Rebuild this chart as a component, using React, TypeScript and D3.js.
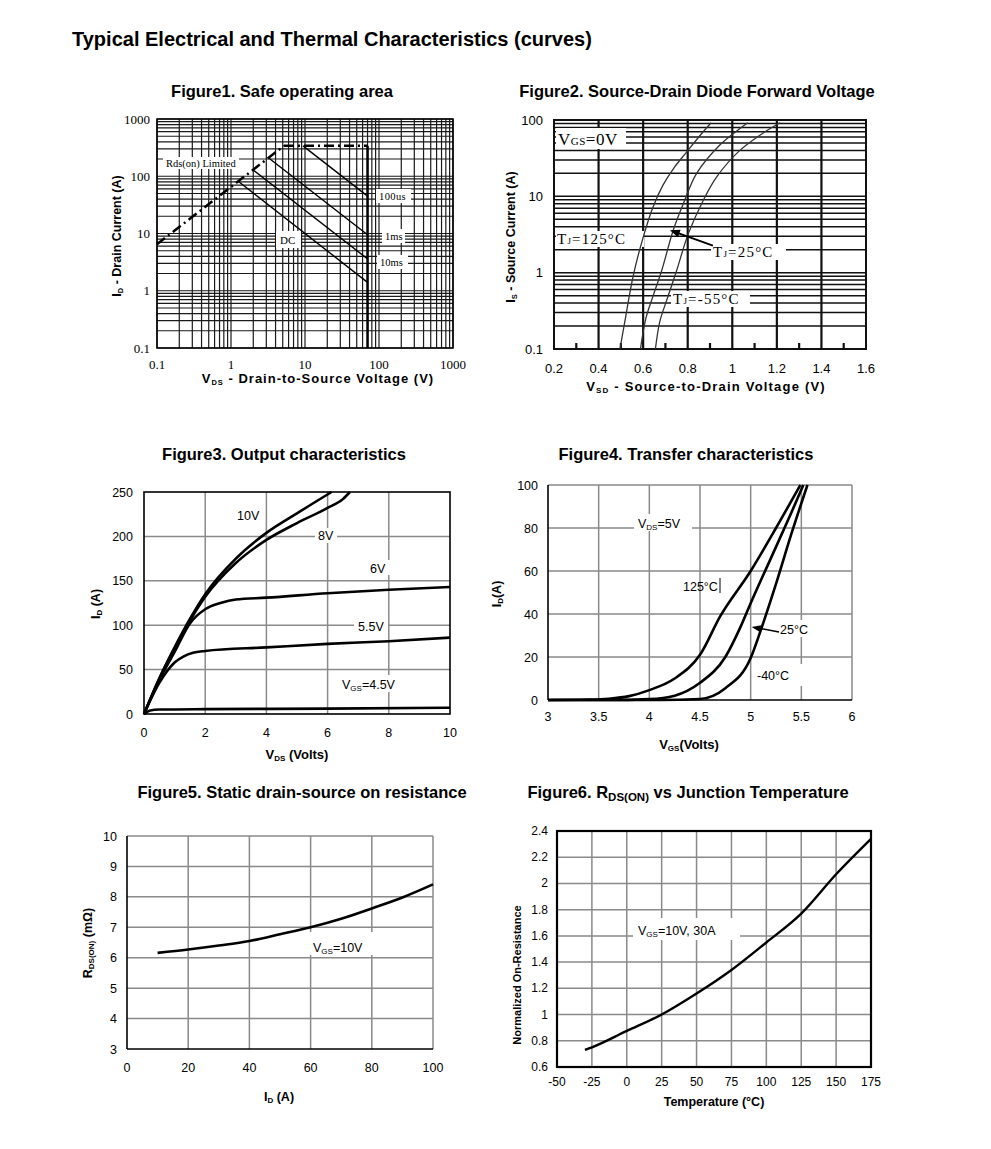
import * as d3 from "d3"

type P = [number, number]

const SANS = "'Liberation Sans', Arial, sans-serif"
const SERIF = "'Liberation Serif', 'Times New Roman', serif"

// ---- Figure 1: safe operating area (Vds V, Id A)
const soaTicks = [0.1, 1, 10, 100, 1000]
const soaRdsLimit: P[] = [[0.1, 6.5], [5.2, 340]]
const soaTop: P[] = [[5.2, 340], [70, 340]]
const soaVmax: P[] = [[70, 340], [70, 0.1]]
const soa100us: P[] = [[9.4, 340], [70, 45]]
const soa1ms: P[] = [[3.2, 210], [70, 9.5]]
const soa10ms: P[] = [[2.0, 128], [70, 3.6]]
const soaDC: P[] = [[1.25, 82], [70, 1.4]]

// ---- Figure 2: diode forward voltage (Vsd V, Is A)
const vsdTicks = [0.2, 0.4, 0.6, 0.8, 1.0, 1.2, 1.4, 1.6]
const vsdGrid = [0.4, 0.6, 0.8, 1.0, 1.2, 1.4]
const vsdMinor = [0.3, 0.5, 0.7, 0.9, 1.1, 1.3, 1.5]
const isTicks = [0.1, 1, 10, 100]
const diode125: P[] = [[0.496, 0.1], [0.518, 0.23], [0.554, 0.87], [0.6, 2.9], [0.644, 7.2], [0.689, 14], [0.74, 24], [0.795, 38], [0.86, 65], [0.905, 92]]
const diode25: P[] = [[0.588, 0.1], [0.612, 0.25], [0.645, 0.5], [0.683, 1.06], [0.735, 3.6], [0.78, 8], [0.84, 20], [0.944, 47], [1.02, 72], [1.07, 92]]
const diodeM55: P[] = [[0.655, 0.1], [0.675, 0.23], [0.705, 0.43], [0.75, 1.06], [0.802, 3.2], [0.87, 8.9], [0.93, 18], [1.034, 40], [1.14, 68], [1.215, 92]]

// ---- Figure 3: output characteristics (Vds V, Id A)
const vdsTicks = [0, 2, 4, 6, 8, 10]
const idTicks3 = [0, 50, 100, 150, 200, 250]
const out10V: P[] = [[0, 0], [0.5, 40], [1, 75], [1.5, 107], [2, 135], [3, 175], [4, 204], [5, 226], [6.13, 250]]
const out8V: P[] = [[0, 0], [0.5, 40], [1, 74], [1.5, 105], [2, 132], [3, 170], [4, 196], [5, 215], [6, 232], [6.5, 242], [6.73, 250]]
const out6V: P[] = [[0, 0], [0.5, 38], [1, 70], [1.5, 102], [2, 118], [2.5, 125], [3, 129], [4, 131], [6, 136], [8, 140], [10, 143]]
const out55V: P[] = [[0, 0], [0.5, 35], [1, 58], [1.3, 65], [1.6, 69], [2, 71], [4, 75], [6, 79], [8, 82], [10, 86]]
const out45V: P[] = [[0, 0], [0.2, 4], [0.5, 5], [2, 5.5], [6, 6], [10, 7]]

// ---- Figure 4: transfer characteristics (Vgs V, Id A)
const vgsTicks = [3, 3.5, 4, 4.5, 5, 5.5, 6]
const idTicks4 = [0, 20, 40, 60, 80, 100]
const tr125: P[] = [[3, 0], [3.4, 0.2], [3.6, 0.6], [3.8, 1.8], [4, 4.6], [4.25, 10], [4.5, 21], [4.7, 39], [5, 60], [5.25, 80], [5.49, 100]]
const tr25: P[] = [[3, 0], [3.6, 0], [4, 0.4], [4.25, 2], [4.5, 8], [4.75, 20], [4.9, 34], [5, 45], [5.2, 66], [5.4, 87], [5.52, 100]]
const trM40: P[] = [[3, 0], [4.1, 0], [4.5, 0.5], [4.75, 5.5], [5, 19.5], [5.1, 32.5], [5.25, 54], [5.4, 77], [5.56, 100]]

// ---- Figure 5: Rds(on) vs Id
const idTicks5 = [0, 20, 40, 60, 80, 100]
const rTicks5 = [3, 4, 5, 6, 7, 8, 9, 10]
const rdsId = [10, 20, 30, 40, 50, 60, 70, 80, 90, 100]
const rdsVal = [6.16, 6.27, 6.4, 6.55, 6.77, 7.0, 7.28, 7.62, 7.98, 8.41]

// ---- Figure 6: normalized Rds(on) vs Tj
const tempTicks = [-50, -25, 0, 25, 50, 75, 100, 125, 150, 175]
const normTicks = [0.6, 0.8, 1, 1.2, 1.4, 1.6, 1.8, 2, 2.2, 2.4]
const tjVal = [-30, -25, 0, 25, 50, 75, 100, 125, 150, 175]
const normVal = [0.73, 0.75, 0.875, 1.0, 1.16, 1.34, 1.55, 1.77, 2.07, 2.34]

const fmt = (v: number) => String(+v.toFixed(2))

function Box({ x, y, w, h }: { x: number; y: number; w: number; h: number }) {
  return <rect x={x} y={y} width={w} height={h} fill="#fff" />
}

function Arrow({ hx, hy, tx, ty, len, half, sw }: { hx: number; hy: number; tx: number; ty: number; len: number; half: number; sw: number }) {
  const a = Math.atan2(ty - hy, tx - hx)
  const c = Math.cos(a), s = Math.sin(a)
  const p1 = [hx + len * c - half * s, hy + len * s + half * c]
  const p2 = [hx + len * c + half * s, hy + len * s - half * c]
  return (
    <g>
      <line x1={tx} y1={ty} x2={hx + (len - 2) * c} y2={hy + (len - 2) * s} stroke="#000" strokeWidth={sw} />
      <polygon points={`${hx},${hy} ${p1[0]},${p1[1]} ${p2[0]},${p2[1]}`} fill="#000" />
    </g>
  )
}

export default function App() {
  // scales
  const x1 = d3.scaleLog().domain([0.1, 1000]).range([157, 453])
  const y1 = d3.scaleLog().domain([0.1, 1000]).range([348, 119])
  const x2 = d3.scaleLinear().domain([0.2, 1.6]).range([554, 866])
  const y2 = d3.scaleLog().domain([0.1, 100]).range([349, 120])
  const x3 = d3.scaleLinear().domain([0, 10]).range([144, 450])
  const y3 = d3.scaleLinear().domain([0, 250]).range([714, 492])
  const x4 = d3.scaleLinear().domain([3, 6]).range([548, 852])
  const y4 = d3.scaleLinear().domain([0, 100]).range([700, 485])
  const x5 = d3.scaleLinear().domain([0, 100]).range([127, 433])
  const y5 = d3.scaleLinear().domain([3, 10]).range([1049, 836])
  const x6 = d3.scaleLinear().domain([-50, 175]).range([557, 871])
  const y6 = d3.scaleLinear().domain([0.6, 2.4]).range([1067, 831])

  const l1 = d3.line<P>().x(d => x1(d[0])).y(d => y1(d[1]))
  const l2 = d3.line<P>().x(d => x2(d[0])).y(d => y2(d[1])).curve(d3.curveCatmullRom)
  const l3 = d3.line<P>().x(d => x3(d[0])).y(d => y3(d[1])).curve(d3.curveMonotoneX)
  const l4 = d3.line<P>().x(d => x4(d[0])).y(d => y4(d[1])).curve(d3.curveMonotoneX)
  const l5 = d3.line<number>().x(d => x5(d)).y((d, i) => y5(rdsVal[i])).curve(d3.curveMonotoneX)
  const l6 = d3.line<number>().x(d => x6(d)).y((d, i) => y6(normVal[i])).curve(d3.curveMonotoneX)

  const gray = "#8a8a8a"
  const titleStyle = { fontSize: 16.5, fontWeight: 700 as const }

  return (
    <svg width={991} height={1149} style={{ position: "absolute", left: 0, top: 0, background: "#fff" }} fontFamily={SANS}>
      <rect width={991} height={1149} fill="#fff" />
      <text x={72} y={46} fontSize={20} fontWeight={700}>Typical Electrical and Thermal Characteristics (curves)</text>

      {/* ================= Figure 1 ================= */}
      <text x={282} y={97} textAnchor="middle" {...titleStyle}>Figure1. Safe operating area</text>
      <g stroke="#1a1a1a" strokeWidth={1.2}>
        {x1.ticks().map((t, i) => <line key={"a" + i} x1={x1(t)} x2={x1(t)} y1={119} y2={348} />)}
        {y1.ticks().map((t, i) => <line key={"b" + i} x1={157} x2={453} y1={y1(t)} y2={y1(t)} />)}
      </g>
      <rect x={157} y={119} width={296} height={229} fill="none" stroke="#000" strokeWidth={1.5} />
      <g fill="none" stroke="#000">
        <path d={l1(soaRdsLimit)!} strokeWidth={2.5} strokeDasharray="10 4 2 4" />
        <path d={l1(soaTop)!} strokeWidth={2.5} strokeDasharray="10 4 2 4" />
        <path d={l1(soaVmax)!} strokeWidth={2.5} />
        <path d={l1(soa100us)!} strokeWidth={1.4} />
        <path d={l1(soa1ms)!} strokeWidth={1.4} />
        <path d={l1(soa10ms)!} strokeWidth={1.4} />
        <path d={l1(soaDC)!} strokeWidth={1.4} />
      </g>
      <g fontFamily={SERIF} fontSize={10.5}>
        <Box x={163} y={157} w={76} h={12} />
        <text x={166} y={166.5}>Rds(on) Limited</text>
        <Box x={376} y={189} w={35} h={14} />
        <text x={379} y={199.5} letterSpacing={0.4}>100us</text>
        <Box x={382} y={229} w={23} h={14} />
        <text x={385} y={239.5}>1ms</text>
        <Box x={377} y={255} w={31} h={14} />
        <text x={380} y={265.5}>10ms</text>
        <Box x={276} y={231} w={25} h={17} />
        <text x={280} y={244} fontSize={11}>DC</text>
      </g>
      <g fontFamily={SERIF} fontSize={13}>
        {soaTicks.map(t => <text key={"y" + t} x={150} y={y1(t) + 4.5} textAnchor="end">{fmt(t)}</text>)}
        {soaTicks.map(t => <text key={"x" + t} x={x1(t)} y={369} textAnchor="middle">{fmt(t)}</text>)}
      </g>
      <text x={318} y={383} textAnchor="middle" fontSize={13} fontWeight={700} letterSpacing={1}>
        V<tspan fontSize={7.5} dy={2}>DS</tspan><tspan dy={-2}> - Drain-to-Source Voltage (V)</tspan>
      </text>
      <text transform="translate(121,236) rotate(-90)" textAnchor="middle" fontSize={12.5} fontWeight={700}>
        I<tspan fontSize={7.5} dy={2}>D</tspan><tspan dy={-2}> - Drain Current (A)</tspan>
      </text>

      {/* ================= Figure 2 ================= */}
      <text x={697} y={97} textAnchor="middle" {...titleStyle}>Figure2. Source-Drain Diode Forward Voltage</text>
      <g stroke="#111" strokeWidth={1.5}>
        {y2.ticks().map((t, i) => <line key={"h" + i} x1={554} x2={866} y1={y2(t)} y2={y2(t)} />)}
      </g>
      <g stroke="#111" strokeWidth={2.2}>
        {vsdGrid.map(t => <line key={"v" + t} x1={x2(t)} x2={x2(t)} y1={120} y2={349} />)}
        {vsdMinor.map(t => <line key={"m" + t} x1={x2(t)} x2={x2(t)} y1={343} y2={349} />)}
      </g>
      <rect x={554} y={120} width={312} height={229} fill="none" stroke="#111" strokeWidth={2} />
      <g fontFamily={SERIF}>
        <Box x={556} y={128} w={70} h={21} />
        <text x={558} y={145} fontSize={17} letterSpacing={0.5}>V<tspan fontSize={11}>GS</tspan>=0V</text>
        <Box x={556} y={231} w={88} h={16} />
        <text x={557} y={244} fontSize={15} letterSpacing={1.2}>T<tspan fontSize={9}>J</tspan>=125°C</text>
        <Box x={711} y={244} w={75} h={16} />
        <text x={713} y={257} fontSize={15} letterSpacing={1.2}>T<tspan fontSize={9}>J</tspan>=25°C</text>
        <Box x={671} y={291} w={79} h={16} />
        <text x={673} y={304} fontSize={15} letterSpacing={1.2}>T<tspan fontSize={9}>J</tspan>=-55°C</text>
      </g>
      <g fill="none" stroke="#333" strokeWidth={1.3}>
        <path d={l2(diode125)!} />
        <path d={l2(diode25)!} />
        <path d={l2(diodeM55)!} />
      </g>
      <Arrow hx={x2(0.72)} hy={y2(3.6)} tx={x2(0.913)} ty={y2(2.26)} len={10} half={4} sw={2} />
      <g fontSize={13}>
        {isTicks.map(t => <text key={"y" + t} x={543} y={y2(t) + 4.5} textAnchor="end">{fmt(t)}</text>)}
        {vsdTicks.map(t => <text key={"x" + t} x={x2(t)} y={373} textAnchor="middle">{fmt(t)}</text>)}
      </g>
      <text x={706} y={391} textAnchor="middle" fontSize={13} fontWeight={700} letterSpacing={1.2}>
        V<tspan fontSize={8} dy={2}>SD</tspan><tspan dy={-2}> - Source-to-Drain Voltage (V)</tspan>
      </text>
      <text transform="translate(515,237) rotate(-90)" textAnchor="middle" fontSize={12.5} fontWeight={700}>
        I<tspan fontSize={7.5} dy={2}>S</tspan><tspan dy={-2}> - Source Current (A)</tspan>
      </text>

      {/* ================= Figure 3 ================= */}
      <text x={284} y={460} textAnchor="middle" {...titleStyle}>Figure3. Output characteristics</text>
      <g stroke={gray} strokeWidth={1.5}>
        {vdsTicks.slice(1, -1).map(t => <line key={"v" + t} x1={x3(t)} x2={x3(t)} y1={492} y2={714} />)}
        {idTicks3.slice(1, -1).map(t => <line key={"h" + t} x1={144} x2={450} y1={y3(t)} y2={y3(t)} />)}
      </g>
      <rect x={144} y={492} width={306} height={222} fill="none" stroke="#000" strokeWidth={1.6} />
      <g fontSize={12.5}>
        <Box x={315} y={528} w={22} h={15} />
        <text x={318} y={540}>8V</text>
        <Box x={366} y={560} w={27} h={15} />
        <text x={370} y={573}>6V</text>
        <Box x={354} y={618} w={34} h={15} />
        <text x={358} y={631}>5.5V</text>
        <Box x={338} y={675} w={64} h={17} />
        <text x={342} y={689}>V<tspan fontSize={8} dy={2}>GS</tspan><tspan dy={-2}>=4.5V</tspan></text>
        <text x={237} y={520}>10V</text>
      </g>
      <g fill="none" stroke="#000" strokeWidth={2.6} strokeLinejoin="round">
        <path d={l3(out10V)!} />
        <path d={l3(out8V)!} />
        <path d={l3(out6V)!} />
        <path d={l3(out55V)!} />
        <path d={l3(out45V)!} />
      </g>
      <g fontSize={12.5}>
        {idTicks3.map(t => <text key={"y" + t} x={133} y={y3(t) + 4.5} textAnchor="end">{t}</text>)}
        {vdsTicks.map(t => <text key={"x" + t} x={x3(t)} y={737} textAnchor="middle">{t}</text>)}
      </g>
      <text x={297} y={759} textAnchor="middle" fontSize={13} fontWeight={700}>
        V<tspan fontSize={8} dy={2}>DS</tspan><tspan dy={-2}> (Volts)</tspan>
      </text>
      <text transform="translate(100,604) rotate(-90)" textAnchor="middle" fontSize={12.5} fontWeight={700}>
        I<tspan fontSize={8} dy={2}>D</tspan><tspan dy={-2}> (A)</tspan>
      </text>

      {/* ================= Figure 4 ================= */}
      <text x={686} y={460} textAnchor="middle" {...titleStyle}>Figure4. Transfer characteristics</text>
      <g stroke={gray} strokeWidth={1.5}>
        {vgsTicks.slice(1, -1).map(t => <line key={"v" + t} x1={x4(t)} x2={x4(t)} y1={485} y2={700} />)}
        {idTicks4.slice(1, -1).map(t => <line key={"h" + t} x1={548} x2={852} y1={y4(t)} y2={y4(t)} />)}
        <line x1={548} x2={852} y1={485} y2={485} />
        <line x1={852} x2={852} y1={485} y2={700} />
      </g>
      <line x1={548} x2={548} y1={485} y2={700} stroke="#000" strokeWidth={1.6} />
      <line x1={548} x2={852} y1={700} y2={700} stroke="#000" strokeWidth={1.6} />
      <g fontSize={12.5}>
        <Box x={634} y={514} w={58} h={17} />
        <text x={638} y={528}>V<tspan fontSize={8} dy={2}>DS</tspan><tspan dy={-2}>=5V</tspan></text>
        <text x={683} y={591}>125°C</text>
        <line x1={720} x2={720} y1={578} y2={593} stroke="#000" strokeWidth={1} />
        <Box x={777} y={620} w={40} h={17} />
        <text x={780} y={634}>25°C</text>
        <Box x={753} y={664} w={52} h={22} />
        <text x={757} y={680}>-40°C</text>
      </g>
      <g fill="none" stroke="#000" strokeWidth={2.6} strokeLinejoin="round">
        <path d={l4(tr125)!} />
        <path d={l4(tr25)!} />
        <path d={l4(trM40)!} />
      </g>
      <Arrow hx={x4(5.01)} hy={y4(34)} tx={x4(5.28)} ty={y4(31.6)} len={9} half={3.5} sw={1.5} />
      <g fontSize={12.5}>
        {idTicks4.map(t => <text key={"y" + t} x={538} y={y4(t) + 4.5} textAnchor="end">{t}</text>)}
        {vgsTicks.map(t => <text key={"x" + t} x={x4(t)} y={721} textAnchor="middle">{fmt(t)}</text>)}
      </g>
      <text x={689} y={749} textAnchor="middle" fontSize={13} fontWeight={700}>
        V<tspan fontSize={8} dy={2}>GS</tspan><tspan dy={-2}>(Volts)</tspan>
      </text>
      <text transform="translate(501,594) rotate(-90)" textAnchor="middle" fontSize={12.5} fontWeight={700}>
        I<tspan fontSize={8} dy={2}>D</tspan><tspan dy={-2}>(A)</tspan>
      </text>

      {/* ================= Figure 5 ================= */}
      <text x={302} y={798} textAnchor="middle" {...titleStyle}>Figure5. Static drain-source on resistance</text>
      <g stroke={gray} strokeWidth={1.5}>
        {idTicks5.slice(1, -1).map(t => <line key={"v" + t} x1={x5(t)} x2={x5(t)} y1={836} y2={1049} />)}
        {rTicks5.slice(1, -1).map(t => <line key={"h" + t} x1={127} x2={433} y1={y5(t)} y2={y5(t)} />)}
        <line x1={127} x2={433} y1={836} y2={836} />
        <line x1={433} x2={433} y1={836} y2={1049} />
      </g>
      <line x1={127} x2={127} y1={836} y2={1049} stroke="#000" strokeWidth={1.6} />
      <line x1={127} x2={433} y1={1049} y2={1049} stroke="#000" strokeWidth={1.6} />
      <Box x={309} y={932} w={64} h={23} />
      <text x={313} y={952} fontSize={12.5}>V<tspan fontSize={8} dy={2}>GS</tspan><tspan dy={-2}>=10V</tspan></text>
      <path d={l5(rdsId)!} fill="none" stroke="#000" strokeWidth={2.6} />
      <g fontSize={12.5}>
        {rTicks5.map(t => <text key={"y" + t} x={117} y={y5(t) + 4.5} textAnchor="end">{t}</text>)}
        {idTicks5.map(t => <text key={"x" + t} x={x5(t)} y={1072} textAnchor="middle">{t}</text>)}
      </g>
      <text x={279} y={1101} textAnchor="middle" fontSize={12.5} fontWeight={700}>
        I<tspan fontSize={8} dy={2}>D</tspan><tspan dy={-2}> (A)</tspan>
      </text>
      <text transform="translate(92,943) rotate(-90)" textAnchor="middle" fontSize={12.5} fontWeight={700}>
        R<tspan fontSize={8} dy={2}>DS(ON)</tspan><tspan dy={-2}> (mΩ)</tspan>
      </text>

      {/* ================= Figure 6 ================= */}
      <text x={688} y={798} textAnchor="middle" {...titleStyle}>
        Figure6. R<tspan fontSize={11.5} dy={3}>DS(ON)</tspan><tspan dy={-3}> vs Junction Temperature</tspan>
      </text>
      <g stroke={gray} strokeWidth={1.5}>
        {tempTicks.slice(1, -1).map(t => <line key={"v" + t} x1={x6(t)} x2={x6(t)} y1={831} y2={1067} />)}
        {normTicks.slice(1, -1).map(t => <line key={"h" + t} x1={557} x2={871} y1={y6(t)} y2={y6(t)} />)}
      </g>
      <rect x={557} y={831} width={314} height={236} fill="none" stroke="#000" strokeWidth={2.2} />
      <Box x={633} y={918} w={107} h={22} />
      <text x={638} y={935} fontSize={12.5}>V<tspan fontSize={8} dy={2}>GS</tspan><tspan dy={-2}>=10V, 30A</tspan></text>
      <path d={l6(tjVal)!} fill="none" stroke="#000" strokeWidth={2.4} />
      <g fontSize={12}>
        {normTicks.map(t => <text key={"y" + t} x={548} y={y6(t) + 4} textAnchor="end">{fmt(t)}</text>)}
        {tempTicks.map(t => <text key={"x" + t} x={x6(t)} y={1086} textAnchor="middle">{t}</text>)}
      </g>
      <text x={714} y={1106} textAnchor="middle" fontSize={12.5} fontWeight={700}>Temperature (°C)</text>
      <text transform="translate(521,975) rotate(-90)" textAnchor="middle" fontSize={11} fontWeight={700}>Normalized On-Resistance</text>
    </svg>
  )
}
